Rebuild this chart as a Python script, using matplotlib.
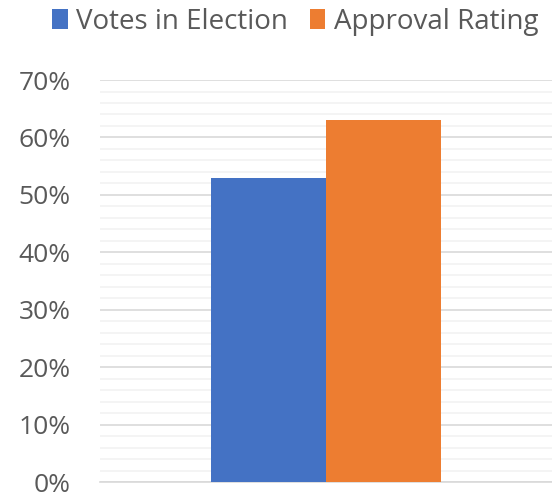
import matplotlib
matplotlib.use("Agg")
import matplotlib.pyplot as plt
from matplotlib.ticker import MultipleLocator, FuncFormatter
from matplotlib.patches import Patch

series = ["Votes in Election", "Approval Rating"]
values = [0.53, 0.63]
colors = ["#4472C4", "#ED7D31"]

plt.rcParams["font.family"] = ["Open Sans", "DejaVu Sans"]

fig = plt.figure(figsize=(5.52, 4.97), dpi=100)
ax = fig.add_axes([0.181, 0.030, 0.819, 0.809])

offsets = [-0.255, 0.255]
for off, v, c in zip(offsets, values, colors):
    ax.bar(off, v, width=0.51, color=c, zorder=3)

ax.set_xlim(-1.0, 1.0)
ax.set_ylim(0, 0.7)
ax.yaxis.set_major_locator(MultipleLocator(0.1))
ax.yaxis.set_minor_locator(MultipleLocator(0.02))
ax.yaxis.set_major_formatter(FuncFormatter(lambda v, p: f"{v*100:.0f}%"))
ax.grid(axis="y", which="major", color="#d9d9d9", linewidth=1.2, zorder=0)
ax.grid(axis="y", which="minor", color="#f2f2f2", linewidth=1.2, zorder=0)
ax.set_xticks([])
for s in ["top", "right", "left"]:
    ax.spines[s].set_visible(False)
ax.spines["bottom"].set_color("#d9d9d9")
ax.spines["bottom"].set_linewidth(1.2)
ax.tick_params(axis="y", which="both", length=0, labelsize=19, labelcolor="#595959", pad=21)

handles = [Patch(facecolor=c, label=s) for s, c in zip(series, colors)]
fig.legend(handles=handles, loc="upper center", bbox_to_anchor=(0.535, 1.035), ncol=2,
           frameon=False, fontsize=20, labelcolor="#595959", handlelength=0.55,
           handleheight=0.7, handletextpad=0.3, columnspacing=0.8)

fig.savefig("out.png", dpi=100)
